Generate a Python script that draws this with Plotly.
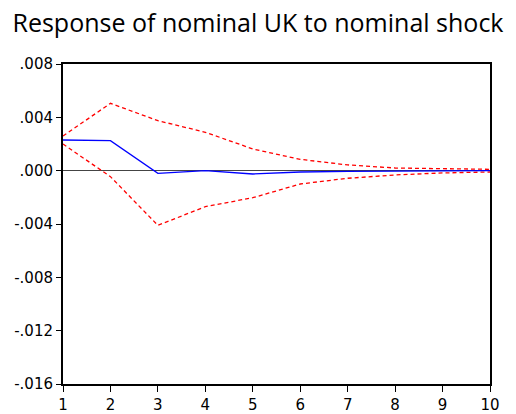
import plotly.graph_objects as go

periods = [1, 2, 3, 4, 5, 6, 7, 8, 9, 10]
response = [0.0023, 0.00225, -0.0002, 0.0000, -0.00025, -0.0001, -0.00005, -0.00002, 0.0, 0.0]
upper_band = [0.0026, 0.00505, 0.00375, 0.00288, 0.00163, 0.00085, 0.00043, 0.0002, 0.00015, 0.0001]
lower_band = [0.0020, -0.00045, -0.0041, -0.0027, -0.00203, -0.0010, -0.00057, -0.00032, -0.00017, -0.0001]
y_tickvals = [0.008, 0.004, 0.0, -0.004, -0.008, -0.012, -0.016]
y_ticktext = [".008", ".004", ".000", "-.004", "-.008", "-.012", "-.016"]

fig = go.Figure()
fig.add_trace(go.Scatter(x=periods, y=upper_band, mode="lines",
                         line=dict(color="#ff0000", width=1.3, dash="4px,3px")))
fig.add_trace(go.Scatter(x=periods, y=lower_band, mode="lines",
                         line=dict(color="#ff0000", width=1.3, dash="4px,3px")))
fig.add_trace(go.Scatter(x=periods, y=response, mode="lines",
                         line=dict(color="#0000ff", width=1.3)))

fig.update_layout(
    width=516, height=414,
    margin=dict(l=63, r=26, t=64, b=30),
    paper_bgcolor="white", plot_bgcolor="white",
    showlegend=False,
    title=dict(text="Response of nominal UK to nominal shock",
               x=0.5, xanchor="center", y=0.945, yanchor="middle",
               font=dict(family="Open Sans", size=25, color="black")),
    xaxis=dict(range=[1, 10], tickvals=periods, ticks="outside", ticklen=6,
               tickcolor="black", tickwidth=1, showgrid=False, zeroline=False,
               showline=True, linecolor="black", linewidth=2, mirror=True,
               automargin=False,
               tickfont=dict(family="DejaVu Sans", size=15, color="black")),
    yaxis=dict(range=[-0.016, 0.008], tickvals=y_tickvals, ticktext=y_ticktext,
               ticks="outside", ticklen=5, tickcolor="black", tickwidth=1,
               showgrid=False, zeroline=True, zerolinecolor="#444444", zerolinewidth=1,
               showline=True, linecolor="black", linewidth=2, mirror=True,
               automargin=False,
               tickfont=dict(family="DejaVu Sans", size=15, color="black")),
)
fig.write_html("out.html")
